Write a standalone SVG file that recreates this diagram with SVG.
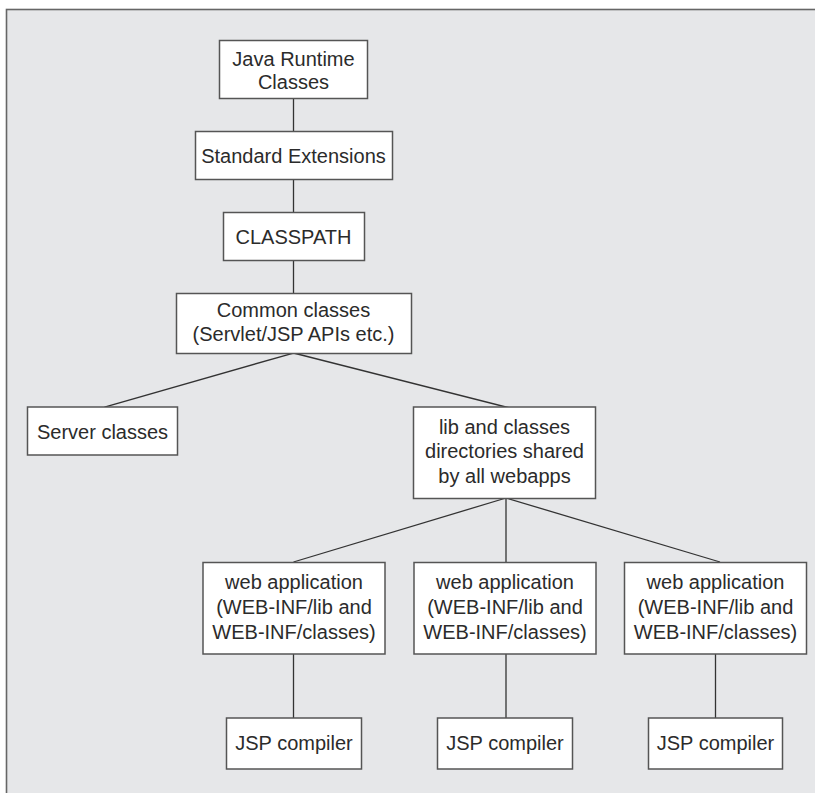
<svg xmlns="http://www.w3.org/2000/svg" width="815" height="793" viewBox="0 0 815 793">
<style>
.box{fill:#ffffff;stroke:#555555;stroke-width:1.5}
.t{font-family:"Liberation Sans",Arial,sans-serif;font-size:20px;fill:#2b2b2b;text-anchor:middle}
.c{stroke:#333333;stroke-width:1.3;fill:none}
</style>
<rect x="0" y="0" width="815" height="793" fill="#ffffff"/>
<rect x="6.5" y="9.5" width="820" height="800" fill="#e6e7e9" stroke="#666666" stroke-width="1.6"/>
<g id="connectors">
<line class="c" x1="293.5" y1="98" x2="293.5" y2="131"/>
<line class="c" x1="293.5" y1="179" x2="293.5" y2="212"/>
<line class="c" x1="293.5" y1="260" x2="293.5" y2="293"/>
<line class="c" x1="293.5" y1="353" x2="104.5" y2="407"/>
<line class="c" x1="293.5" y1="353" x2="510" y2="408"/>
<line class="c" x1="506" y1="498" x2="293.5" y2="562"/>
<line class="c" x1="506" y1="498" x2="506" y2="562"/>
<line class="c" x1="506" y1="498" x2="720" y2="562"/>
<line class="c" x1="293.5" y1="654" x2="293.5" y2="718"/>
<line class="c" x1="506" y1="654" x2="506" y2="718"/>
<line class="c" x1="715.5" y1="654" x2="715.5" y2="718"/>
</g>
<g id="jrc">
<rect class="box" x="219.5" y="40.5" width="148" height="58"/>
<text class="t" x="293.5" y="65.5">Java Runtime</text>
<text class="t" x="293.5" y="89">Classes</text>
</g>
<g id="stdext">
<rect class="box" x="195.5" y="131.5" width="197" height="48"/>
<text class="t" x="293.5" y="162.5">Standard Extensions</text>
</g>
<g id="classpath">
<rect class="box" x="223.5" y="212.5" width="141" height="48"/>
<text class="t" x="293.5" y="244">CLASSPATH</text>
</g>
<g id="common">
<rect class="box" x="176.5" y="293.5" width="235" height="60"/>
<text class="t" x="293.5" y="317">Common classes</text>
<text class="t" x="293.5" y="341">(Servlet/JSP APIs etc.)</text>
</g>
<g id="server">
<rect class="box" x="27.5" y="407" width="150" height="48"/>
<text class="t" x="102.5" y="438.5">Server classes</text>
</g>
<g id="shared">
<rect class="box" x="413.5" y="407" width="182" height="91.5"/>
<text class="t" x="504.5" y="433.5">lib and classes</text>
<text class="t" x="504.5" y="458">directories shared</text>
<text class="t" x="504.5" y="482.5">by all webapps</text>
</g>
<g id="webapp1">
<rect class="box" x="203" y="562.5" width="182" height="91.5"/>
<text class="t" x="294" y="589">web application</text>
<text class="t" x="294" y="614">(WEB-INF/lib and</text>
<text class="t" x="294" y="638.5">WEB-INF/classes)</text>
</g>
<g id="webapp2">
<rect class="box" x="414" y="562.5" width="182" height="91.5"/>
<text class="t" x="505" y="589">web application</text>
<text class="t" x="505" y="614">(WEB-INF/lib and</text>
<text class="t" x="505" y="638.5">WEB-INF/classes)</text>
</g>
<g id="webapp3">
<rect class="box" x="624.5" y="562.5" width="182" height="91.5"/>
<text class="t" x="715.5" y="589">web application</text>
<text class="t" x="715.5" y="614">(WEB-INF/lib and</text>
<text class="t" x="715.5" y="638.5">WEB-INF/classes)</text>
</g>
<g id="jsp1">
<rect class="box" x="226.5" y="718" width="135" height="51"/>
<text class="t" x="294" y="749.5">JSP compiler</text>
</g>
<g id="jsp2">
<rect class="box" x="437.5" y="718" width="135" height="51"/>
<text class="t" x="505" y="749.5">JSP compiler</text>
</g>
<g id="jsp3">
<rect class="box" x="648.5" y="718" width="134" height="51"/>
<text class="t" x="715.5" y="749.5">JSP compiler</text>
</g>
</svg>
